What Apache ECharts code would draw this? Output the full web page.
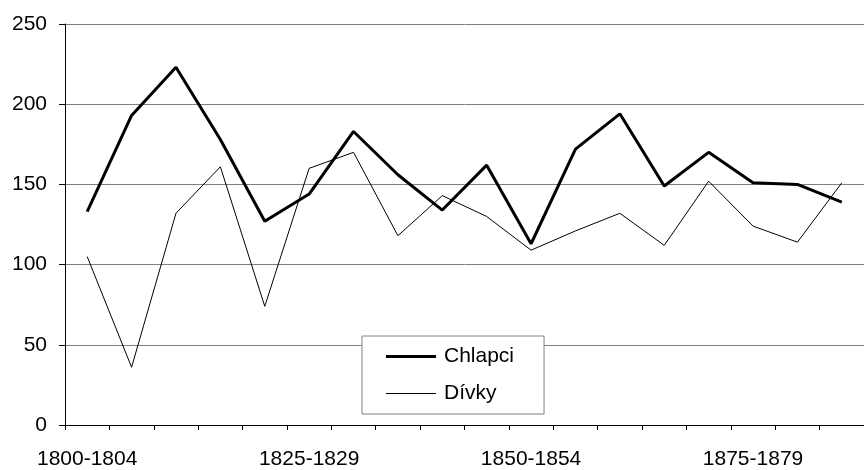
<!DOCTYPE html>
<html>
<head>
<meta charset="utf-8">
<script src="https://cdn.jsdelivr.net/npm/echarts@6/dist/echarts.min.js"></script>
<style>
  html, body { margin: 0; padding: 0; background: #fff; }
  #chart { width: 864px; height: 470px; }
</style>
</head>
<body>
<div id="chart"></div>
<script>
// five-year periods 1800-1804 .. 1885-1889
const periods = [
  '1800-1804', '1805-1809', '1810-1814', '1815-1819', '1820-1824', '1825-1829',
  '1830-1834', '1835-1839', '1840-1844', '1845-1849', '1850-1854', '1855-1859',
  '1860-1864', '1865-1869', '1870-1874', '1875-1879', '1880-1884', '1885-1889'
];
const chlapci = [133, 193, 223, 178, 127, 144, 183, 156, 134, 162, 113, 172, 194, 149, 170, 151, 150, 139];
const divky = [105, 36, 132, 161, 74, 160, 170, 118, 143, 130, 109, 121, 132, 112, 152, 124, 114, 151];

const font = 'Liberation Sans, Arial, sans-serif';

const chart = echarts.init(document.getElementById('chart'));
chart.setOption({
  animation: false,
  grid: { left: 65, right: -6, top: 24, bottom: 43 },
  legend: {
    orient: 'vertical',
    left: 362,
    top: 336,
    padding: [10, 30, 10, 24],
    itemWidth: 50,
    itemHeight: 14,
    itemGap: 16,
    selectedMode: false,
    symbolKeepAspect: true,
    backgroundColor: '#fff',
    borderColor: '#808080',
    borderWidth: 1,
    itemStyle: { color: '#000', borderWidth: 0 },
    textStyle: { fontFamily: font, fontSize: 21, color: '#000', lineHeight: 20, padding: [0, 0, 0, 3] },
    data: [
      { name: 'Chlapci', icon: 'path://M0,0H50V3H0Z' },
      { name: 'Dívky', icon: 'path://M0,0H50V1H0Z' }
    ]
  },
  xAxis: {
    type: 'category',
    data: periods,
    boundaryGap: true,
    axisLine: { lineStyle: { color: '#000', width: 1 } },
    axisTick: { show: true, interval: 0, length: 5, lineStyle: { color: '#000' } },
    axisLabel: { interval: 4, margin: 24, fontFamily: font, fontSize: 21, color: '#000' }
  },
  yAxis: {
    type: 'value',
    min: 0,
    max: 250,
    interval: 50,
    axisLine: { show: true, lineStyle: { color: '#000', width: 1 } },
    axisTick: { show: true, length: 6, lineStyle: { color: '#000' } },
    axisLabel: { margin: 18, fontFamily: font, fontSize: 21, color: '#000' },
    splitLine: { lineStyle: { color: '#808080', width: 1 } }
  },
  series: [
    {
      name: 'Chlapci',
      type: 'line',
      data: chlapci,
      symbol: 'none',
      lineStyle: { color: '#000', width: 3 },
      itemStyle: { color: '#000' }
    },
    {
      name: 'Dívky',
      type: 'line',
      data: divky,
      symbol: 'none',
      lineStyle: { color: '#000', width: 1 },
      itemStyle: { color: '#000' }
    }
  ]
});
</script>
</body>
</html>
